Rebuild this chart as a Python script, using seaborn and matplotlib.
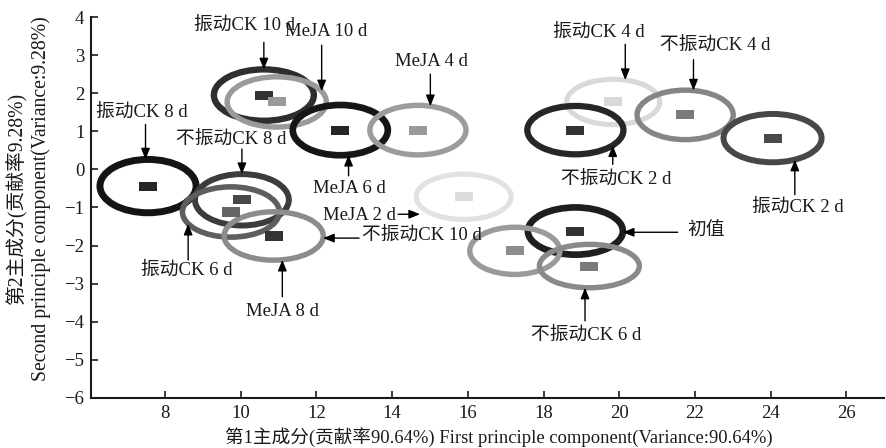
import numpy as np
import pandas as pd
import seaborn as sns
import matplotlib.pyplot as plt
from matplotlib.patches import Ellipse

# PCA scores (centre of each group) and ellipse size
groups = ["振动CK 8 d", "振动CK 10 d", "MeJA 10 d", "MeJA 6 d", "MeJA 4 d",
          "不振动CK 8 d", "振动CK 6 d", "MeJA 8 d", "MeJA 2 d", "振动CK 4 d",
          "不振动CK 4 d", "振动CK 2 d", "不振动CK 2 d", "初值", "不振动CK 10 d",
          "不振动CK 6 d"]
pc1 = [7.55, 10.61, 10.95, 12.63, 14.68, 10.03, 9.74, 10.87, 15.89, 19.84,
       21.74, 24.05, 18.84, 18.84, 17.24, 19.21]
pc2 = [-0.44, 1.95, 1.77, 1.03, 1.03, -0.80, -1.12, -1.75, -0.72, 1.77,
       1.43, 0.82, 1.03, -1.62, -2.14, -2.54]
ell_w = [2.54, 2.64, 2.62, 2.51, 2.54, 2.48, 2.56, 2.62, 2.51, 2.46,
         2.54, 2.59, 2.54, 2.51, 2.38, 2.64]
ell_h = [1.40, 1.35, 1.32, 1.32, 1.30, 1.35, 1.32, 1.27, 1.19, 1.19,
         1.30, 1.27, 1.27, 1.24, 1.24, 1.14]

# labels: text, target group index, angle on ellipse (deg), reach
ann_text = ["振动CK 10 d", "MeJA 10 d", "MeJA 4 d", "振动CK 8 d", "不振动CK 8 d",
            "MeJA 6 d", "MeJA 2 d", "不振动CK 10 d", "振动CK 6 d", "MeJA 8 d",
            "振动CK 4 d", "不振动CK 4 d", "不振动CK 2 d", "振动CK 2 d", "初值",
            "不振动CK 6 d"]
ann_target = [1, 2, 4, 0, 5, 3, 8, 7, 6, 7, 9, 10, 12, 11, 13, 15]
ann_angle = [90, 25, 75, 93, 90, -80, -140, -5, -152, -80, 75, 80, -39, -63, -3, -95]
ann_reach = [1, 1, 1, 1, 1, 1, 1.2, 1, 1, 1, 1, 1, 1, 1, 1, 1]

ring_colors = ["#141414", "#2e2e2e", "#9a9a9a", "#161616", "#9c9c9c", "#3c3c3c",
               "#5e5e5e", "#8c8c8c", "#e2e2e2", "#d9d9d9", "#858585", "#474747",
               "#262626", "#1e1e1e", "#9a9a9a", "#8a8a8a"]
mark_colors = ["#262626", "#333333", "#9a9a9a", "#262626", "#9a9a9a", "#474747",
               "#666666", "#333333", "#dcdcdc", "#d9d9d9", "#7a7a7a", "#4a4a4a",
               "#333333", "#333333", "#8c8c8c", "#7a7a7a"]
ring_lw = [5.0, 4.6, 3.9, 4.8, 3.9, 4.3, 4.0, 3.9, 3.7, 3.7, 3.9, 4.3, 4.5, 4.8, 3.9, 3.9]

# arrow start (offset from tip) and text position, in data units
arrow_d = [(0, 0.71), (0, 1.21), (0, 0.84), (0, 0.92), (0, 0.66), (0, -0.55),
           (-0.58, 0), (0.95, 0), (0, -0.95), (0, -0.97), (0, 0.94), (0, 0.81),
           (0, -0.50), (0, -0.92), (1.45, 0), (0, -0.87)]
text_xy = [(10.11, 3.79), (12.26, 3.63), (15.03, 2.82), (7.39, 1.51), (9.76, 0.80),
           (12.87, -0.49), (13.13, -1.20), (14.79, -1.72), (8.58, -2.64),
           (11.11, -3.74), (19.45, 3.61), (22.53, 3.27), (19.92, -0.25),
           (24.71, -0.99), (22.29, -1.64), (19.13, -4.35)]

df = pd.DataFrame({"group": groups, "pc1": pc1, "pc2": pc2,
                   "w": ell_w, "h": ell_h})

sns.set_theme(style="ticks")
plt.rcParams["font.family"] = ["Liberation Serif", "Noto Sans CJK SC"]
plt.rcParams["axes.unicode_minus"] = True

fig = plt.figure(figsize=(8.86, 4.48), dpi=100)
ax = fig.add_axes([0.103, 0.112, 0.895, 0.85])

for i, row in df.iterrows():
    ax.add_patch(Ellipse((row.pc1, row.pc2), row.w, row.h, fill=False,
                         edgecolor=ring_colors[i], lw=ring_lw[i]))

rect = [(-1, -0.5), (1, -0.5), (1, 0.5), (-1, 0.5), (-1, -0.5)]
sns.scatterplot(data=df, x="pc1", y="pc2", hue="group",
                palette=dict(zip(groups, mark_colors)), marker=rect,
                s=170, linewidth=0, legend=False, ax=ax, zorder=3)

for k, txt in enumerate(ann_text):
    g = ann_target[k]
    t = np.deg2rad(ann_angle[k])
    r = ann_reach[k]
    tip = (pc1[g] + r * ell_w[g] / 2 * np.cos(t),
           pc2[g] + r * ell_h[g] / 2 * np.sin(t))
    start = (tip[0] + arrow_d[k][0], tip[1] + arrow_d[k][1])
    ax.annotate("", xy=tip, xytext=start,
                arrowprops=dict(arrowstyle="-|>,head_length=0.55,head_width=0.22",
                                color="black", lw=1.0, mutation_scale=12,
                                shrinkA=0, shrinkB=0))
    ax.text(text_xy[k][0], text_xy[k][1], txt, ha="center", va="center",
            fontsize=13.5, color="#1a1a1a")

ax.set_xlim(6.05, 27)
ax.set_ylim(-6, 4)
ax.set_xticks(range(8, 27, 2))
ax.set_yticks(range(-6, 5))
ax.tick_params(direction="in", length=5, width=1.2, labelsize=13.5,
               colors="#1a1a1a", pad=5)
for s in ["top", "right"]:
    ax.spines[s].set_visible(False)
for s in ["left", "bottom"]:
    ax.spines[s].set_linewidth(1.5)
    ax.spines[s].set_color("#1a1a1a")

ax.set_xlabel("第1主成分(贡献率90.64%) First principle component(Variance:90.64%)",
              fontsize=13.4, color="#1a1a1a")
ax.set_ylabel("第2主成分(贡献率9.28%)\nSecond principle component(Variance:9.28%)",
              fontsize=14.2, linespacing=1.25, color="#1a1a1a")
ax.xaxis.set_label_coords(0.514, -0.078)
ax.yaxis.set_label_coords(-0.051, 0.522)

plt.savefig("out.png", dpi=100)
